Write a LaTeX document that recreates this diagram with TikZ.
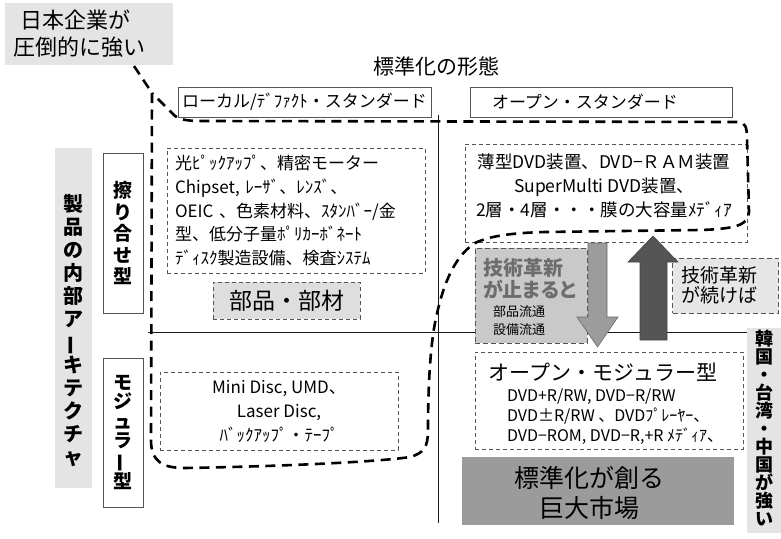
\documentclass[tikz,border=0pt]{standalone}
\usepackage{fontspec}
\setmainfont{Noto Sans CJK JP}
\usepackage{graphicx}
\usetikzlibrary{calc}
\definecolor{lbgray}{HTML}{E4E4E4}
\definecolor{partsfill}{HTML}{DEDEDE}
\definecolor{stopfill}{HTML}{C9C9C9}
\definecolor{stoptext}{HTML}{6D6D6D}
\definecolor{contfill}{HTML}{E6E6E6}
\definecolor{marketfill}{HTML}{9B9B9B}
\definecolor{downfill}{HTML}{9C9C9C}
\definecolor{downdraw}{HTML}{6A6A6A}
\definecolor{upfill}{HTML}{555555}
\definecolor{boxgray}{HTML}{555555}
\newcommand{\fsz}[2]{\fontsize{#1}{#2}\selectfont}
\newcommand{\vbar}{\rotatebox[origin=c]{90}{ー}}
\newcommand{\prop}{\addfontfeatures{RawFeature=+palt}}
\tikzset{
  hbox/.style={draw=boxgray, line width=0.8pt, fill=white},
  dbox/.style={draw=boxgray, line width=0.8pt, dash pattern=on 4pt off 3pt},
  dboxtwo/.style={draw=boxgray, line width=1pt, dash pattern=on 5pt off 3pt},
  graylabel/.style={fill=lbgray},
  vtext/.style={align=center},
  blob/.style={line width=2.6pt, dash pattern=on 10pt off 6.5pt, draw=black},
  axis/.style={line width=0.9pt, draw=black!90}
}
\begin{document}
\begin{tikzpicture}[x=1pt,y=-1pt, every node/.style={inner sep=0pt, outer sep=0pt}]
\useasboundingbox (0,0) rectangle (781,538);
\fill[white] (0,0) rectangle (781,538);

% axes
\coordinate (vtop) at (438,115);
\coordinate (vbot) at (438,523);
\coordinate (hl) at (148,332);
\coordinate (hr) at (747,332);
\draw[axis] (vtop) -- (vbot);
\draw[axis] (hl) -- (hr);

% top-left label
\node[graylabel, minimum width=168, minimum height=62, text width=152, inner xsep=8, align=left, font=\fsz{22}{27}] (jp) at (89,34) {\hspace*{7pt}日本企業が\\圧倒的に強い};

% title
\node[font=\fsz{21}{25}] (title) at (436,67) {標準化の形態};

% headers
\node[hbox, minimum width=253, minimum height=30, font=\fsz{17}{20}] (hloc) at (304.5,102) {ローカル/ﾃﾞﾌｧｸﾄ・スタンダード};
\node[hbox, minimum width=262, minimum height=30, text width=218, inner xsep=22, align=left, font=\fsz{17}{20}] (hopen) at (601,102) {オープン・スタンダード};

% left vertical label
\node[graylabel, minimum width=37, minimum height=340] (archbg) at (73.5,318) {};
\node[vtext, font=\bfseries\fsz{20}{23}] (arch) at (73.5,331) {製\\品\\の\\内\\部\\ア\\\vbar\\キ\\テ\\ク\\チ\\ャ};

% side boxes
\node[hbox, minimum width=40, minimum height=160, vtext, font=\bfseries\fsz{19}{21.5}] (suri) at (123,233) {擦\\り\\合\\せ\\型};
\node[hbox, minimum width=40, minimum height=149, vtext, font=\bfseries\fsz{19}{19.5}] (modu) at (123,432.5) {モ\\ジ\\ュ\\ラ\\\vbar\\型};

% left content
\node[dbox, minimum height=125, text width=242, inner xsep=8, align=left, font=\fsz{17}{23.8}] (parts) at (296,210.5) {光ﾋﾟｯｸｱｯﾌﾟ、精密モーター\\Chipset, ﾚｰｻﾞ、ﾚﾝｽﾞ、\\OEIC 、色素材料、ｽﾀﾝﾊﾞｰ/金\\型、低分子量ﾎﾟﾘｶｰﾎﾞﾈｰﾄ\\ﾃﾞｨｽｸ製造設備、検査ｼｽﾃﾑ};
\node[dbox, fill=partsfill, minimum width=147, minimum height=37, font=\fsz{23}{26}] (buhin) at (286.5,300.5) {部品・部材};
\node[dbox, minimum width=238, minimum height=78, align=center, font=\fsz{17}{24}] (mini) at (279,411) {Mini Disc, UMD、\\Laser Disc,\\ﾊﾞｯｸｱｯﾌﾟ・ﾃｰﾌﾟ};

% top-right content
\node[dbox, minimum width=282, minimum height=98] (dvdbox) at (606,193) {};
\node[font=\fsz{17.5}{24}, align=center] (dvdtext) at (604,186) {薄型DVD装置、DVD−ＲＡＭ装置\\SuperMulti DVD装置、\\2層・4層・・・膜の大容量ﾒﾃﾞｨｱ};

% stop box
\node[dboxtwo, fill=stopfill, minimum width=112, minimum height=95] (stop) at (531,295.5) {};
\node[anchor=west, align=left, text=stoptext, font=\bfseries\prop\fsz{20}{22}] (stopt) at (483,279) {技術革新\\が止まると};
\node[anchor=west, align=left, font=\fsz{13}{18}] (stops) at (493,321) {部品流通\\設備流通};

% continue box
\node[dboxtwo, fill=contfill, minimum height=55, text width=88, inner xsep=9, align=left, font=\fsz{19}{20}] (cont) at (725.5,285.5) {技術革新\\が続けば};

% arrows
\filldraw[fill=downfill, draw=downdraw, line width=0.6pt]
  (588,243) -- (607,243) -- (607,317) -- (618,317) -- (597.5,347) -- (577,317) -- (588,317) -- cycle;
\filldraw[fill=upfill, draw=upfill!80!black, line width=0.6pt]
  (640,340) -- (667,340) -- (667,262) -- (678,262) -- (653,236) -- (628,262) -- (640,262) -- cycle;

% open modular box
\node[dbox, minimum width=268, minimum height=97] (omod) at (609,400.5) {};
\node[font=\fsz{21}{24}] (omodt) at (603,372) {オープン・モジュラー型};
\node[anchor=west, align=left, font=\fsz{16}{20}] (omodl) at (507,417) {DVD+R/RW, DVD−R/RW\\DVD±R/RW 、DVDﾌﾟﾚｰﾔｰ、\\DVD−ROM, DVD−R,+R ﾒﾃﾞｨｱ、};

% market
\node[fill=marketfill, minimum width=272, minimum height=68] (mktbg) at (598,491) {};
\node[font=\fsz{25}{30}, align=center] (mkt) at (589,493) {標準化が創る\\巨大市場};

% right vertical label
\node[graylabel, minimum width=34, minimum height=205] (korbg) at (764,430.5) {};
\node[vtext, font=\bfseries\fsz{18}{18}] (kor) at (764,428) {韓\\国\\・\\台\\湾\\・\\中\\国\\が\\強\\い};

% blob
\coordinate (apex) at (152,93);
\draw[blob] (apex) -- (151,440) .. controls (151,462) and (163,468) .. (185,468)
  .. controls (300,466) and (385,461) .. (410,457)
  .. controls (424,453) and (428,447) .. (428,430)
  .. controls (428,390) and (430,345) .. (436,318)
  .. controls (442,290) and (452,258) .. (475,243)
  .. controls (490,236) and (510,233) .. (545,232)
  -- (700,230) .. controls (735,229) and (749,225) .. (749,212)
  -- (747,138) .. controls (747,127) and (745,122) .. (738,122)
  -- (200,121) .. controls (186,121) and (179,119) .. (175,116)
  -- cycle;
\draw[blob] ($(jp.south)+(45,1)$) -- (apex);
\end{tikzpicture}
\end{document}
